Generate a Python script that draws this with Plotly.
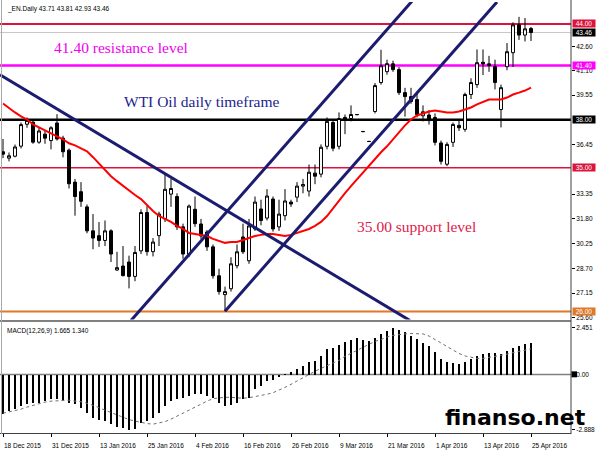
import plotly.graph_objects as go

# ---------------- data ----------------
BAR = list(range(89))
OPEN = [36.00, 35.60, 35.72, 36.35, 37.72, 37.85, 36.60, 37.10, 36.70, 37.80,
        36.85, 36.10, 34.10, 33.50, 32.55, 31.05, 30.75, 30.45, 31.05, 28.60,
        28.85, 29.10, 28.20, 29.80, 32.20, 29.75, 30.75, 31.80, 33.35, 33.20,
        31.30, 29.55, 32.40, 31.48, 30.98, 30.05, 28.24, 27.06, 27.43, 28.87,
        30.67, 29.18, 31.17, 32.42, 31.85, 33.04, 31.30, 32.00, 32.85, 33.16,
        33.85, 33.54, 34.66, 34.60, 36.34, 37.83, 36.34, 38.15, 38.08, 38.33,
        37.27, 36.65, 38.52, 40.33, 41.01, 41.50, 41.14, 39.70, 39.45, 39.27,
        38.25, 38.30, 38.15, 36.55, 35.22, 36.59, 37.65, 37.40, 39.58, 40.20,
        41.60, 41.50, 41.32, 38.64, 41.32, 42.20, 43.94, 43.30, 43.71]
HIGH = [36.80, 35.95, 36.45, 37.83, 38.15, 38.05, 37.50, 37.30, 37.60, 38.35,
        37.00, 36.20, 34.30, 34.10, 32.70, 32.10, 31.60, 31.70, 31.15, 29.74,
        30.10, 29.50, 30.10, 32.40, 32.60, 30.60, 32.25, 34.60, 34.30, 33.40,
        31.50, 32.70, 33.20, 31.80, 31.10, 30.20, 28.68, 27.56, 29.40, 30.20,
        31.50, 31.80, 33.20, 33.00, 33.66, 33.20, 33.00, 33.66, 33.00, 34.10,
        34.30, 35.20, 35.20, 36.46, 38.15, 38.00, 38.46, 38.33, 38.90, 38.36,
        37.30, 36.68, 40.30, 42.38, 41.76, 41.70, 41.30, 40.00, 40.00, 39.75,
        38.90, 38.60, 38.40, 36.70, 36.60, 37.83, 38.00, 39.70, 40.60, 42.40,
        42.40, 42.00, 41.76, 40.20, 42.80, 44.10, 44.44, 44.37, 43.81]
LOW = [35.60, 35.40, 35.65, 36.20, 37.50, 36.50, 36.50, 36.50, 36.15, 36.70,
       35.65, 33.70, 32.00, 32.55, 30.90, 29.90, 30.05, 30.10, 29.10, 28.55,
       28.20, 27.45, 27.90, 29.60, 29.50, 29.45, 30.10, 31.60, 32.55, 31.10,
       29.30, 29.40, 31.30, 30.55, 29.80, 28.06, 27.06, 26.02, 27.25, 28.70,
       29.60, 28.99, 31.05, 31.40, 31.70, 31.00, 31.05, 31.70, 32.55, 32.85,
       33.40, 33.20, 33.97, 34.40, 36.15, 36.03, 36.15, 37.10, 37.90, 38.30,
       37.24, 36.62, 38.40, 40.20, 40.82, 41.00, 39.55, 38.20, 39.00, 38.15,
       37.90, 37.70, 36.40, 35.20, 35.10, 36.30, 37.30, 37.25, 39.30, 40.00,
       40.80, 41.00, 39.90, 37.52, 41.10, 41.30, 43.00, 42.90, 42.93]
CLOSE = [35.85, 35.75, 36.30, 37.70, 37.96, 36.60, 37.30, 36.85, 37.50, 36.80,
         36.00, 34.00, 33.20, 32.90, 31.05, 30.60, 30.45, 31.05, 29.60, 28.75,
         28.25, 28.20, 29.70, 32.20, 29.75, 30.35, 32.10, 33.65, 33.70, 31.30,
         29.60, 32.60, 31.50, 30.73, 30.05, 28.24, 27.25, 27.25, 28.99, 29.74,
         29.74, 31.36, 32.85, 31.70, 33.23, 31.17, 32.10, 32.92, 32.73, 33.85,
         33.95, 34.72, 34.47, 36.28, 37.90, 36.22, 38.08, 37.96, 38.33, 38.32,
         37.26, 36.64, 40.14, 41.38, 41.51, 41.14, 39.70, 39.45, 39.14, 38.33,
         38.50, 37.95, 36.59, 35.40, 36.46, 37.71, 37.50, 39.58, 40.33, 41.57,
         41.50, 41.40, 40.33, 40.01, 42.26, 43.94, 43.30, 43.69, 43.46]
MA = [39.02, 38.71, 38.46, 38.21, 38.02, 37.71, 37.52, 37.33, 37.15, 36.96,
      36.78, 36.53, 36.40, 36.21, 36.03, 35.66, 35.28, 34.91, 34.47, 34.16,
      33.85, 33.60, 33.29, 33.04, 32.66, 32.29, 31.98, 31.79, 31.61, 31.36,
      31.17, 30.92, 30.86, 30.80, 30.73, 30.55, 30.42, 30.30, 30.36, 30.36,
      30.48, 30.61, 30.73, 30.80, 30.86, 30.86, 30.80, 30.73, 30.80, 30.92,
      31.05, 31.17, 31.36, 31.61, 31.98, 32.48, 32.98, 33.41, 33.85, 34.28,
      34.72, 35.16, 35.53, 35.97, 36.34, 36.78, 37.21, 37.65, 38.02, 38.27,
      38.39, 38.52, 38.58, 38.52, 38.46, 38.46, 38.52, 38.64, 38.77, 38.96,
      39.14, 39.27, 39.27, 39.27, 39.39, 39.58, 39.70, 39.83, 40.01]
MACD_HIST = [-2.05, -1.88, -1.79, -1.61, -1.53, -1.47, -1.44, -1.35, -1.23, -1.26,
             -1.35, -1.44, -1.53, -1.70, -1.96, -2.23, -2.35, -2.40, -2.58, -2.70,
             -2.75, -2.888, -2.81, -2.53, -2.40, -2.23, -1.96, -1.61, -1.35, -1.26,
             -1.18, -1.09, -1.00, -1.00, -1.12, -1.18, -1.44, -1.61, -1.58, -1.44,
             -1.26, -1.18, -0.74, -0.60, -0.30, -0.25, -0.12, 0.04, 0.15, 0.32,
             0.49, 0.67, 0.75, 1.01, 1.36, 1.40, 1.57, 1.74, 1.85, 1.92,
             1.85, 1.79, 1.92, 2.14, 2.31, 2.451, 2.35, 2.23, 2.05, 1.88,
             1.67, 1.50, 1.19, 0.84, 0.67, 0.63, 0.58, 0.67, 0.81, 1.01,
             1.12, 1.15, 1.15, 1.10, 1.25, 1.40, 1.52, 1.60, 1.665]
MACD_SIGNAL = [-2.02, -1.96, -1.91, -1.81, -1.70, -1.60, -1.50, -1.44, -1.39, -1.37,
               -1.34, -1.34, -1.39, -1.42, -1.50, -1.60, -1.73, -1.86, -1.99, -2.12,
               -2.25, -2.35, -2.43, -2.51, -2.56, -2.59, -2.54, -2.46, -2.33, -2.17,
               -2.02, -1.86, -1.70, -1.55, -1.39, -1.26, -1.21, -1.19, -1.19, -1.21,
               -1.24, -1.21, -1.16, -1.11, -1.03, -0.95, -0.82, -0.67, -0.51, -0.33,
               -0.15, 0.01, 0.17, 0.32, 0.45, 0.58, 0.74, 0.95, 1.10, 1.26,
               1.41, 1.57, 1.73, 1.83, 1.96, 2.04, 2.09, 2.12, 2.14, 2.14,
               2.12, 2.01, 1.83, 1.62, 1.44, 1.26, 1.10, 0.97, 0.89, 0.84,
               0.84, 0.89, 0.95, 1.00, 1.06, 1.14, 1.22, 1.29, 1.34]

DATE_TICK_BARS = [0, 8, 16, 24, 32, 40, 48, 56, 64, 72, 80, 88]
DATE_TICK_LABELS = ["18 Dec 2015", "31 Dec 2015", "13 Jan 2016", "25 Jan 2016",
                    "4 Feb 2016", "16 Feb 2016", "26 Feb 2016", "9 Mar 2016",
                    "21 Mar 2016", "1 Apr 2016", "13 Apr 2016", "25 Apr 2016"]
PRICE_TICKS = [42.60, 41.10, 39.55, 36.45, 33.35, 31.80, 30.25, 28.70, 27.15, 25.60]
PRICE_TICK_LABELS = ["42.60", "41.10", "39.55", "36.45", "33.35", "31.80",
                     "30.25", "28.70", "27.15", "25.60"]
MACD_TICKS = [2.451, 0.0, -2.888]
MACD_TICK_LABELS = ["2.451", "0.00", "-2.888"]

LEVELS = [44.00, 43.46, 41.40, 38.00, 35.00, 26.00]
LEVEL_LABELS = ["44.00", "43.46", "41.40", "38.00", "35.00", "26.00"]

TREND_DOWN_X, TREND_DOWN_Y = [-0.5, 67.83], [40.82, 25.44]
CHANNEL_A_X, CHANNEL_A_Y = [21.33, 68.33], [25.44, 45.49]
CHANNEL_B_X, CHANNEL_B_Y = [37.0, 82.33], [26.02, 45.37]

TITLE_TEXT = "_EN.Daily 43.71 43.81 42.93 43.46"
MACD_TEXT = "MACD(12,26,9) 1.665 1.340"

# ---------------- styles / geometry ----------------
W, H = 600, 450
PLOT_RIGHT = 571
LEVEL_COLORS = ["#DC143C", "#C8C8C8", "#FF00FF", "#000000", "#DC143C", "#E07828"]
LEVEL_WIDTHS = [2, 1, 2.5, 2.5, 1.5, 2]
LABEL_BG = ["#DC143C", "#000000", "#FF00FF", "#000000", "#DC143C", "#E07828"]
NAVY = "#1B1B6F"
SMALL = dict(family="Liberation Sans, Arial, sans-serif", size=6.5, color="#000000")
SERIF = "Liberation Serif, Times New Roman, serif"


def px(x):
    return x / W


def py(y):
    return 1 - y / H


fig = go.Figure()

# candles
fig.add_trace(go.Candlestick(
    x=BAR, open=OPEN, high=HIGH, low=LOW, close=CLOSE,
    increasing=dict(line=dict(color="#000000", width=1), fillcolor="#FFFFFF"),
    decreasing=dict(line=dict(color="#000000", width=1), fillcolor="#000000"),
    whiskerwidth=0, hoverinfo="skip", xaxis="x", yaxis="y", showlegend=False))

# moving average
fig.add_trace(go.Scatter(x=BAR, y=MA, mode="lines",
                         line=dict(color="#FF0000", width=2),
                         hoverinfo="skip", showlegend=False, yaxis="y"))

# trend lines
for tx, ty in [(TREND_DOWN_X, TREND_DOWN_Y), (CHANNEL_A_X, CHANNEL_A_Y),
               (CHANNEL_B_X, CHANNEL_B_Y)]:
    fig.add_trace(go.Scatter(x=tx, y=ty, mode="lines",
                             line=dict(color=NAVY, width=3),
                             hoverinfo="skip", showlegend=False, yaxis="y"))

# MACD histogram + signal
fig.add_trace(go.Bar(x=BAR, y=MACD_HIST, width=0.4, marker=dict(color="#000000", line=dict(width=0)),
                     hoverinfo="skip", showlegend=False, yaxis="y2"))
fig.add_trace(go.Scatter(x=BAR, y=MACD_SIGNAL, mode="lines",
                         line=dict(color="#707070", width=1, dash="dot"),
                         hoverinfo="skip", showlegend=False, yaxis="y2"))

shapes = []
# level lines
for lv, col, wd in zip(LEVELS, LEVEL_COLORS, LEVEL_WIDTHS):
    shapes.append(dict(type="line", xref="x domain", x0=0, x1=1, yref="y", y0=lv, y1=lv,
                       line=dict(color=col, width=wd), layer="below"))
# MACD zero line
shapes.append(dict(type="line", xref="x domain", x0=0, x1=1, yref="y2", y0=0, y1=0,
                   line=dict(color="#808080", width=1.5), layer="below"))
# panel separator, borders
shapes.append(dict(type="line", xref="paper", yref="paper", x0=0, x1=px(PLOT_RIGHT),
                   y0=py(322.5), y1=py(322.5), line=dict(color="#808080", width=2)))
shapes.append(dict(type="line", xref="paper", yref="paper", x0=px(PLOT_RIGHT), x1=px(PLOT_RIGHT),
                   y0=py(436), y1=1, line=dict(color="#404040", width=1)))
shapes.append(dict(type="line", xref="paper", yref="paper", x0=px(1.5), x1=px(1.5),
                   y0=py(436), y1=1, line=dict(color="#A8A8A8", width=1)))
shapes.append(dict(type="rect", xref="paper", yref="paper", x0=px(571.5), x1=px(577),
                   y0=py(379), y1=py(373), fillcolor="#000000", line=dict(width=0)))

annotations = []
for lv, txt, bg in zip(LEVELS, LEVEL_LABELS, LABEL_BG):
    annotations.append(dict(xref="paper", x=px(572), xanchor="left", yref="y", y=lv,
                            yanchor="middle", text=txt, showarrow=False,
                            bgcolor=bg, borderpad=0, width=22, height=7,
                            font=dict(family=SMALL["family"], size=6.5, color="#FFFFFF")))

annotations += [
    dict(xref="paper", yref="paper", x=px(5), y=py(9), xanchor="left", yanchor="middle",
         text=TITLE_TEXT, showarrow=False, font=SMALL),
    dict(xref="paper", yref="paper", x=px(5), y=py(332), xanchor="left", yanchor="middle",
         text=MACD_TEXT, showarrow=False, font=SMALL),
    dict(xref="paper", yref="paper", x=px(121), y=py(48), xanchor="center", yanchor="middle",
         text="41.40 resistance level", showarrow=False,
         font=dict(family=SERIF, size=15.5, color="#F000F0")),
    dict(xref="paper", yref="paper", x=px(201), y=py(102), xanchor="center", yanchor="middle",
         text="WTI Oil daily timeframe", showarrow=False,
         font=dict(family=SERIF, size=15.5, color="#1E1E8C")),
    dict(xref="paper", yref="paper", x=px(416), y=py(228), xanchor="center", yanchor="middle",
         text="35.00 support level", showarrow=False,
         font=dict(family=SERIF, size=15.5, color="#E0204A")),
    dict(xref="paper", yref="paper", x=px(443), y=py(419), xanchor="left", yanchor="middle",
         text="<b>finanso.net</b>", showarrow=False,
         font=dict(family="DejaVu Sans, Verdana, sans-serif", size=22, color="#000000")),
]

fig.update_layout(
    width=W, height=H, margin=dict(l=0, r=0, t=0, b=0),
    paper_bgcolor="#FFFFFF", plot_bgcolor="#FFFFFF",
    showlegend=False, bargap=0,
    xaxis=dict(domain=[0, px(PLOT_RIGHT)], range=[-0.5, (PLOT_RIGHT - 3) / 6],
               anchor="y2", rangeslider=dict(visible=False),
               tickmode="array", tickvals=DATE_TICK_BARS, ticktext=DATE_TICK_LABELS,
               ticks="outside", ticklen=3, tickcolor="#000000",
               ticklabelposition="outside right", ticklabelstandoff=6,
               ticklabeloverflow="allow",
               showline=True, linecolor="#404040", linewidth=1,
               showgrid=False, zeroline=False, tickfont=SMALL, fixedrange=True),
    yaxis=dict(domain=[py(321), py(2)], range=[25.50, 45.37], side="right", anchor="x",
               tickmode="array", tickvals=PRICE_TICKS, ticktext=PRICE_TICK_LABELS,
               ticks="outside", ticklen=3, tickcolor="#000000", ticklabeloverflow="allow",
               showline=False, showgrid=False, zeroline=False, tickfont=SMALL),
    yaxis2=dict(domain=[py(435), py(324)], range=[-3.056, 2.713], side="right", anchor="x",
                tickmode="array", tickvals=MACD_TICKS, ticktext=MACD_TICK_LABELS,
                ticks="outside", ticklen=3, tickcolor="#000000", ticklabeloverflow="allow",
                showline=False, showgrid=False, zeroline=False, tickfont=SMALL),
    shapes=shapes, annotations=annotations,
)

fig.write_html("out.html", config={"displayModeBar": False},
               post_script="document.body.style.margin='0';document.body.style.padding='0';")
